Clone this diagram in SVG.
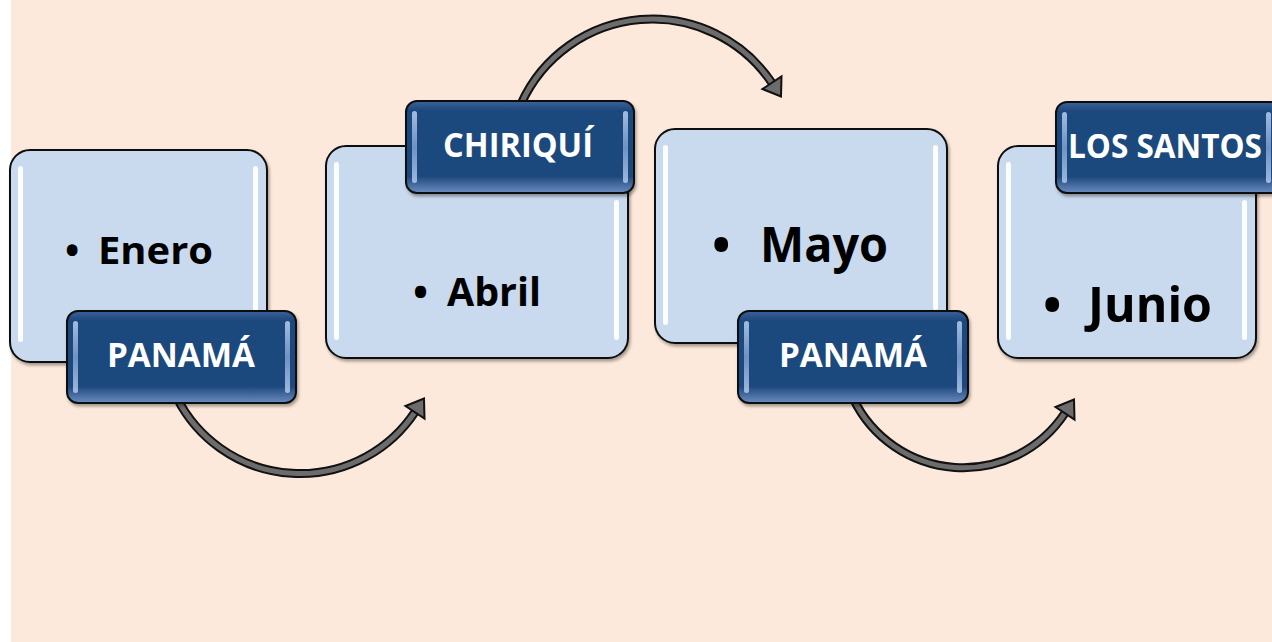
<svg xmlns="http://www.w3.org/2000/svg" width="1272" height="642" viewBox="0 0 1272 642">
<defs>
<filter id="sh" x="-10%" y="-10%" width="120%" height="125%">
<feDropShadow dx="1.5" dy="2.5" stdDeviation="1.8" flood-color="#000" flood-opacity="0.35"/>
</filter>
<filter id="bl" x="-50%" y="-10%" width="200%" height="120%">
<feGaussianBlur stdDeviation="0.7"/>
</filter>
<linearGradient id="lg" x1="0" y1="0" x2="0" y2="1">
<stop offset="0" stop-color="#3a629a"/>
<stop offset="0.1" stop-color="#1f497d"/>
<stop offset="0.82" stop-color="#1f497d"/>
<stop offset="1" stop-color="#6a8cc0"/>
</linearGradient>
<linearGradient id="bv" x1="0" y1="0" x2="0" y2="1">
<stop offset="0" stop-color="#b9d0f0"/>
<stop offset="0.5" stop-color="#7e9fd2"/>
<stop offset="1" stop-color="#b3cbee"/>
</linearGradient>
</defs>
<style>
.box{fill:#c9d9ee;stroke:#111;stroke-width:2;}
.gl{fill:#fff;opacity:0.95;}
.lab{fill:url(#lg);stroke:#111;stroke-width:2;}
.bev{fill:url(#bv);opacity:0.85;}
.t{font-family:"Open Sans","Noto Sans",sans-serif;font-weight:700;fill:#000;}
.lt{font-family:"Open Sans","Noto Sans",sans-serif;font-weight:700;fill:#fff;font-size:34px;text-anchor:middle;}
.so{fill:none;stroke:#111;stroke-width:9;}
.si{fill:none;stroke:#6c6c6c;stroke-width:5;}
.hd{fill:#6c6c6c;stroke:#111;stroke-width:2;stroke-linejoin:miter;}
</style>
<rect x="0" y="0" width="1272" height="642" fill="#ffffff"/>
<rect x="11" y="0" width="1261" height="642" fill="#fde9db"/>

<g id="connectors">
<g id="arrow1">
<path class="so" d="M177 398 A138 138 0 0 0 415 412"/>
<path class="si" d="M177 398 A138 138 0 0 0 415 412"/>
<polygon class="hd" points="424,398.5 424.5,418.5 405.5,406"/>
</g>
<g id="arrow2">
<path class="so" d="M521 104 A144 144 0 0 1 772 83"/>
<path class="si" d="M521 104 A144 144 0 0 1 772 83"/>
<polygon class="hd" points="781,96.5 781.5,76.5 762.5,89"/>
</g>
<g id="arrow3">
<path class="so" d="M853 398 A122 122 0 0 0 1065 413"/>
<path class="si" d="M853 398 A122 122 0 0 0 1065 413"/>
<polygon class="hd" points="1074,399.5 1074.5,419.5 1055.5,407"/>
</g>
</g>

<g id="node-enero">
<rect class="box" x="10" y="150" width="257" height="212" rx="20" filter="url(#sh)"/>
<rect class="gl" x="18" y="166" width="5" height="176" rx="2.5" filter="url(#bl)"/>
<rect class="gl" x="253" y="166" width="5" height="176" rx="2.5" filter="url(#bl)"/>
<text class="t" font-size="38"><tspan x="65" y="264">•</tspan><tspan x="98" y="264" textLength="115" lengthAdjust="spacingAndGlyphs">Enero</tspan></text>
</g>
<g id="label-panama1">
<rect class="lab" x="67" y="311" width="229" height="92" rx="11" filter="url(#sh)"/>
<rect class="bev" x="73" y="321" width="5" height="72" rx="2.5"/>
<rect class="bev" x="285" y="321" width="5" height="72" rx="2.5"/>
<text class="lt" x="181" y="367" textLength="148" lengthAdjust="spacingAndGlyphs">PANAMÁ</text>
</g>

<g id="node-abril">
<rect class="box" x="326" y="146" width="302" height="212" rx="20" filter="url(#sh)"/>
<rect class="gl" x="334" y="162" width="5" height="178" rx="2.5" filter="url(#bl)"/>
<rect class="gl" x="614" y="200" width="5" height="140" rx="2.5" filter="url(#bl)"/>
<text class="t" font-size="40"><tspan x="413" y="306">•</tspan><tspan x="447" y="306" textLength="94" lengthAdjust="spacingAndGlyphs">Abril</tspan></text>
</g>
<g id="label-chiriqui">
<rect class="lab" x="406" y="101" width="228" height="92" rx="11" filter="url(#sh)"/>
<rect class="bev" x="412" y="111" width="5" height="72" rx="2.5"/>
<rect class="bev" x="623" y="111" width="5" height="72" rx="2.5"/>
<text class="lt" x="518" y="157" textLength="150" lengthAdjust="spacingAndGlyphs">CHIRIQUÍ</text>
</g>

<g id="node-mayo">
<rect class="box" x="655" y="129" width="292" height="214" rx="20" filter="url(#sh)"/>
<rect class="gl" x="663" y="145" width="5" height="180" rx="2.5" filter="url(#bl)"/>
<rect class="gl" x="933" y="145" width="5" height="165" rx="2.5" filter="url(#bl)"/>
<text class="t" font-size="49"><tspan x="712" y="262">•</tspan><tspan x="760" y="262" textLength="128" lengthAdjust="spacingAndGlyphs">Mayo</tspan></text>
</g>
<g id="label-panama2">
<rect class="lab" x="738" y="311" width="230" height="92" rx="11" filter="url(#sh)"/>
<rect class="bev" x="744" y="321" width="5" height="72" rx="2.5"/>
<rect class="bev" x="957" y="321" width="5" height="72" rx="2.5"/>
<text class="lt" x="853" y="367" textLength="148" lengthAdjust="spacingAndGlyphs">PANAMÁ</text>
</g>

<g id="node-junio">
<rect class="box" x="998" y="146" width="258" height="212" rx="20" filter="url(#sh)"/>
<rect class="gl" x="1006" y="162" width="5" height="178" rx="2.5" filter="url(#bl)"/>
<rect class="gl" x="1242" y="200" width="5" height="140" rx="2.5" filter="url(#bl)"/>
<text class="t" font-size="49"><tspan x="1043" y="322">•</tspan><tspan x="1088" y="322" textLength="124" lengthAdjust="spacingAndGlyphs">Junio</tspan></text>
</g>
<g id="label-lossantos">
<rect class="lab" x="1056" y="102" width="226" height="91" rx="11" filter="url(#sh)"/>
<rect class="bev" x="1062" y="112" width="5" height="71" rx="2.5"/>
<rect class="bev" x="1266" y="112" width="5" height="71" rx="2.5"/>
<text class="lt" x="1165" y="158" textLength="194" lengthAdjust="spacingAndGlyphs">LOS SANTOS</text>
</g>
</svg>
